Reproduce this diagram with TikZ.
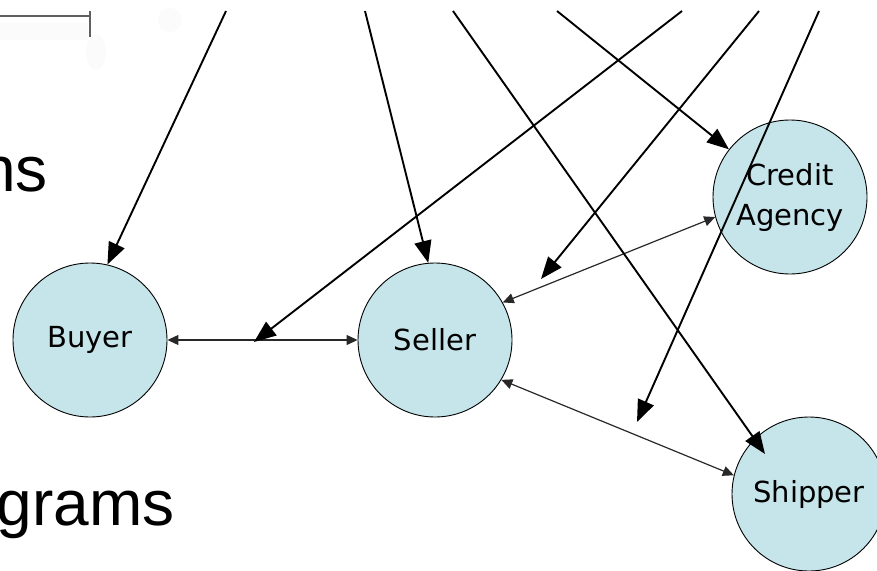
\documentclass[tikz,border=0pt]{standalone}
\usepackage{fontspec}
\setmainfont{DejaVu Sans}
\newfontfamily\slidefont{Liberation Sans}
\usetikzlibrary{arrows.meta}
\definecolor{rolefill}{RGB}{198,229,234}
\definecolor{thinline}{RGB}{40,40,40}
\tikzset{
  role/.style={circle, draw=black, line width=0.9pt, fill=rolefill,
    minimum size=154pt, inner sep=0pt, font=\fontsize{29}{40}\selectfont,
    align=center},
  bigarrow/.style={line width=1.9pt, -{Triangle[length=22pt,width=17pt]}},
  twoway/.style={line width=1.2pt, draw=thinline,
    {Triangle[length=11pt,width=10pt]}-{Triangle[length=11pt,width=10pt]}},
  slidetext/.style={font=\slidefont\fontsize{64}{64}\selectfont, inner sep=0pt}
}
\begin{document}
\begin{tikzpicture}[x=1pt,y=-1pt]
  \useasboundingbox (0,0) rectangle (877,570);
  \clip (0,0) rectangle (877,570);

  % remnants of the slide behind the diagram
  \fill[gray!3] (0,22) rectangle (88,40);
  \fill[gray!3] (170,20) circle (12);
  \fill[gray!3] (96,52) ellipse (10 and 18);
  \draw[gray!75!black, line width=1.2pt] (0,16) -- (90,16);
  \draw[gray!75!black, line width=1.2pt] (90,11) -- (90,37);
  \node[slidetext, anchor=base east] (tailA) at (48,191) {ns};
  \node[slidetext, anchor=base east] (tailB) at (175,525) {grams};

  % roles
  \node[role] (buyer)   at (90,340)  {Buyer};
  \node[role] (seller)  at (435,340) {Seller};
  \node[role] (credit)  at (790,197) {Credit\\Agency};
  \node[role] (shipper) at (809,494) {Shipper};

  % interactions between roles
  \draw[twoway] (buyer) -- (seller);
  \draw[twoway] (seller.29) -- (credit.195);
  \draw[twoway] (seller.-31) -- (shipper.166);

  % incoming messages from above
  \coordinate (s1) at (226,11);
  \coordinate (s2) at (365,11);
  \coordinate (s3) at (453,11);
  \coordinate (s4) at (557,11);
  \coordinate (s5) at (682,11);
  \coordinate (s6) at (759,11);
  \coordinate (s7) at (819,11);
  \coordinate (t3) at (765,454);
  \coordinate (t5) at (254,342);
  \coordinate (t6) at (541,279);
  \coordinate (t7) at (637,422);

  \draw[bigarrow] (s1) -- (buyer.77);
  \draw[bigarrow] (s2) -- (seller.95);
  \draw[bigarrow] (s3) -- (t3);
  \draw[bigarrow] (s4) -- (credit.142);
  \draw[bigarrow] (s5) -- (t5);
  \draw[bigarrow] (s6) -- (t6);
  \draw[bigarrow] (s7) -- (t7);
\end{tikzpicture}
\end{document}
